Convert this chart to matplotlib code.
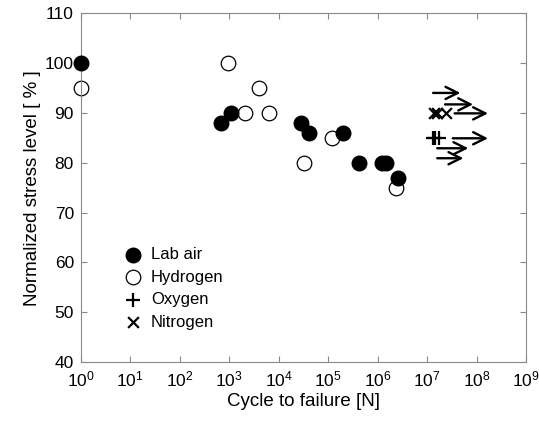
import matplotlib
matplotlib.use('Agg')
import matplotlib.pyplot as plt
import numpy as np

plt.rcParams['font.family'] = ['Liberation Sans', 'DejaVu Sans']
plt.rcParams['mathtext.fontset'] = 'custom'
plt.rcParams['mathtext.rm'] = 'Liberation Sans'
plt.rcParams['mathtext.it'] = 'Liberation Sans'

# Lab air (filled circles)
air_cycles = [1, 680, 1090, 28000, 41000, 200000, 425000, 1.23e6, 1.5e6, 2.6e6]
air_stress = [100, 88, 90, 88, 86, 86, 80, 80, 80, 77]

# Hydrogen (open circles)
h2_cycles = [1, 950, 2100, 4000, 6400, 32000, 120000, 2.4e6]
h2_stress = [95, 100, 90, 95, 90, 80, 85, 75]

# Oxygen runouts
o2_cycles = [1.32e7, 1.45e7, 1.74e7]
o2_stress = [85, 85, 85]

# Nitrogen runouts
n2_cycles = [1.4e7, 1.58e7, 2.4e7]
n2_stress = [90, 90, 90]

# runout arrows: start, end (cycles), level (%)
arrow_start = [1.32e7, 2.3e7, 3.6e7, 3.3e7, 1.6e7, 1.6e7]
arrow_end = [4.7e7, 8.5e7, 1.7e8, 1.7e8, 6.8e7, 5.4e7]
arrow_level = [94.0, 91.7, 89.9, 84.9, 82.9, 80.9]

fig = plt.figure(figsize=(5.39, 4.25), dpi=100)
ax = fig.add_axes([0.150, 0.148, 0.826, 0.821])

ax.scatter(air_cycles, air_stress, s=110, color='black', label='Lab air',
           zorder=3, clip_on=False)
ax.scatter(h2_cycles, h2_stress, s=110, facecolor='white', edgecolor='black',
           linewidth=0.9, label='Hydrogen', zorder=2, clip_on=False)
ax.scatter(o2_cycles, o2_stress, s=90, marker='+', color='black', linewidth=1.6,
           label='Oxygen', zorder=3)
ax.scatter(n2_cycles, n2_stress, s=60, marker='x', color='black', linewidth=1.6,
           label='Nitrogen', zorder=3)

for x0, x1, y in zip(arrow_start, arrow_end, arrow_level):
    ax.annotate('', xy=(x1, y), xytext=(x0, y),
                arrowprops=dict(arrowstyle='->', color='black', lw=1.7,
                                mutation_scale=22, shrinkA=0, shrinkB=0))

ax.set_xscale('log')
ax.set_xlim(1, 1e9)
ax.set_ylim(40, 110)
ax.set_xticks([10.0 ** k for k in range(10)])
ax.minorticks_off()
ax.set_yticks(np.arange(40, 111, 10))
ax.tick_params(direction='in', top=True, right=True, labelsize=12.5,
               length=4, color='#888888', pad=5)
for s in ax.spines.values():
    s.set_color('#888888')

ax.set_xlabel('Cycle to failure [N]', fontsize=13.5, labelpad=3)
ax.set_ylabel('Normalized stress level [ % ]', fontsize=13.5, labelpad=3)

leg = ax.legend(loc='lower left', bbox_to_anchor=(0.045, 0.05), frameon=False,
                fontsize=12, handletextpad=0.1, labelspacing=0.45,
                markerscale=1.0)

fig.savefig('out.png', dpi=100)
